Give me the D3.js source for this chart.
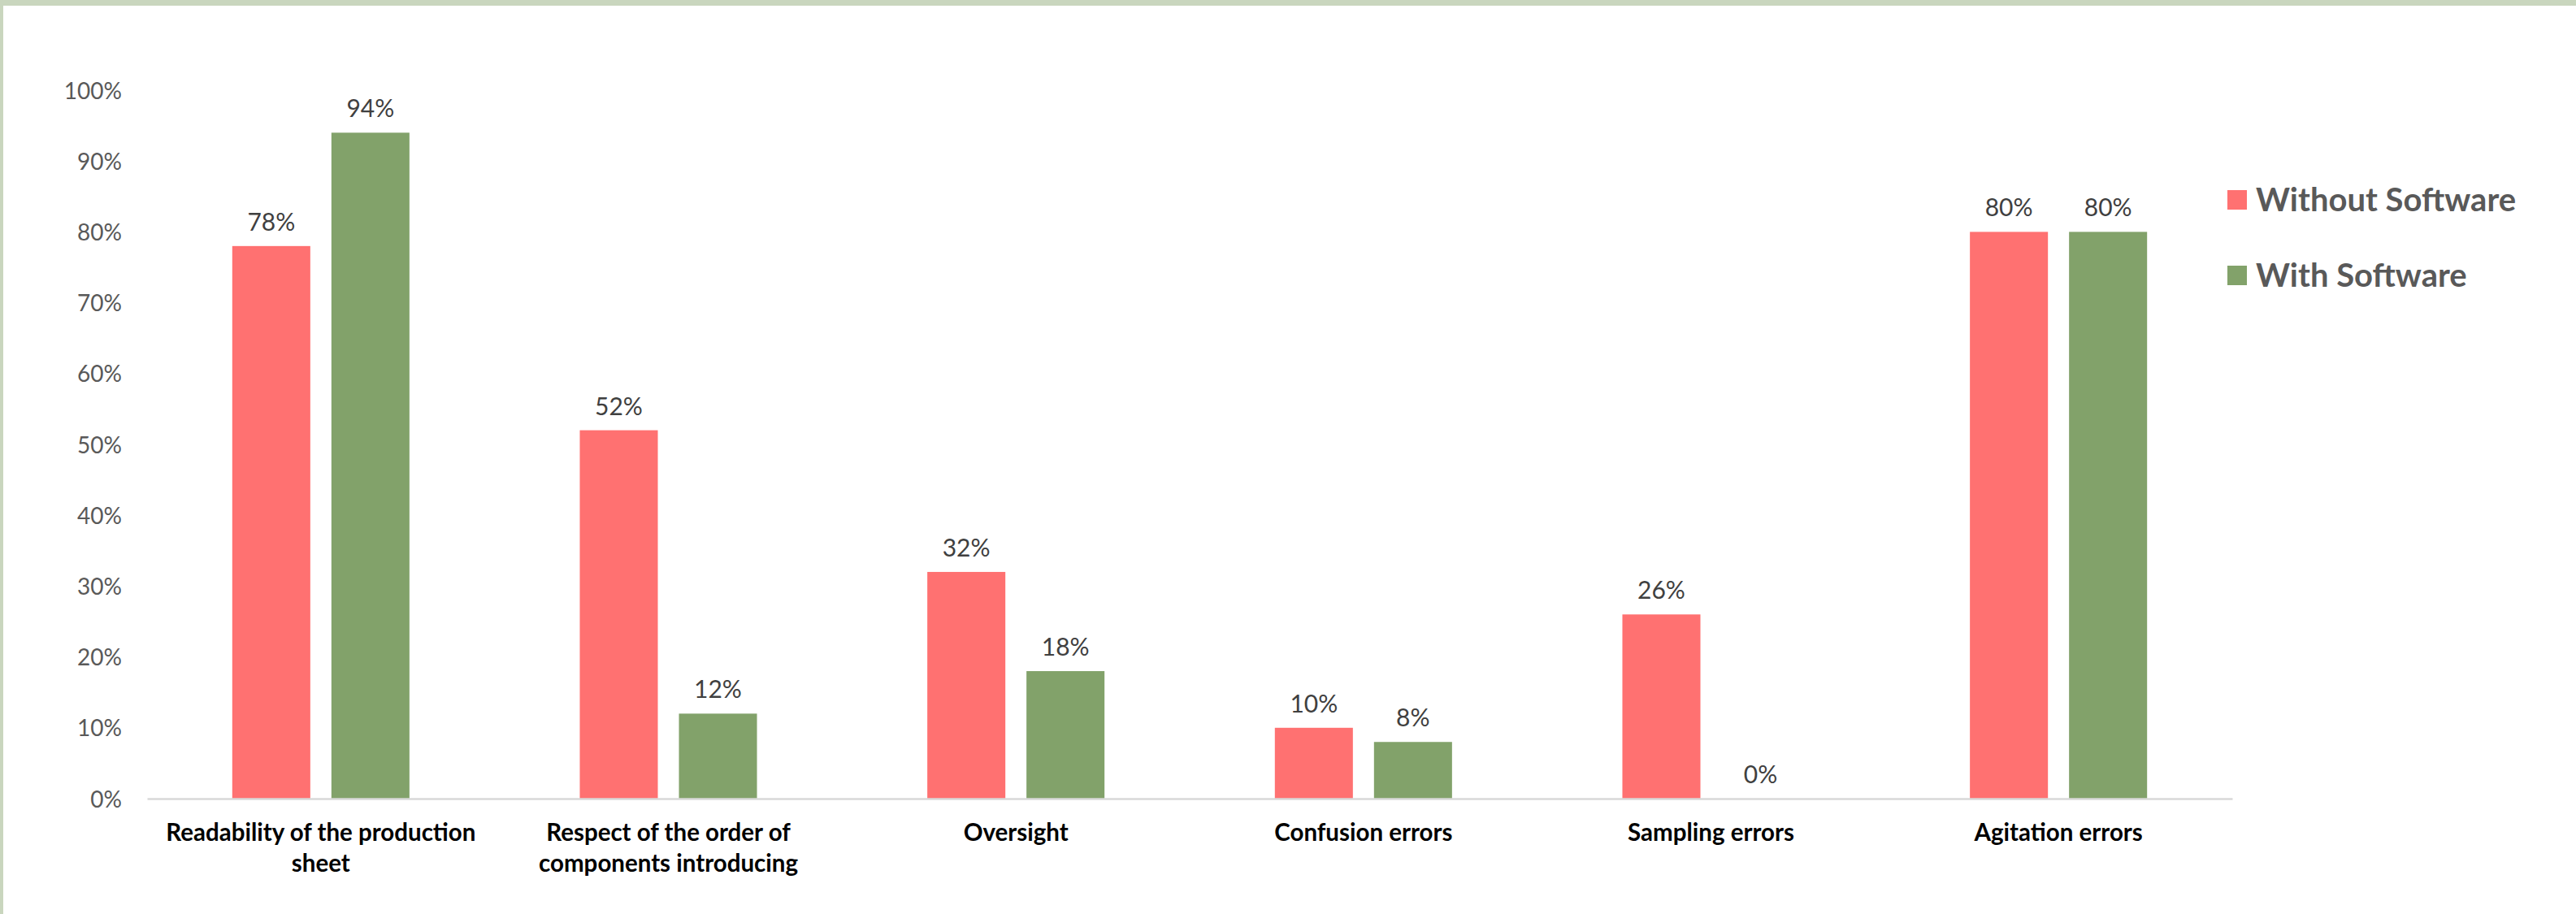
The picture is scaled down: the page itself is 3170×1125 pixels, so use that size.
<!DOCTYPE html>
<html>
<head>
<meta charset="utf-8">
<script src="https://cdn.jsdelivr.net/npm/d3@7"></script>
<style>
  html, body { margin: 0; padding: 0; background: #ffffff; }
  svg { display: block; }
</style>
</head>
<body>
<script>
// Share of operators reporting each issue, with and without the software
const categories = [
  "Readability of the production sheet",
  "Respect of the order of components introducing",
  "Oversight",
  "Confusion errors",
  "Sampling errors",
  "Agitation errors"
];
// Category labels as they wrap under the axis
const categoryLines = [
  ["Readability of the production", "sheet"],
  ["Respect of the order of", "components introducing"],
  ["Oversight"],
  ["Confusion errors"],
  ["Sampling errors"],
  ["Agitation errors"]
];
const seriesNames = ["Without Software", "With Software"];
const withoutSoftware = [78, 52, 32, 10, 26, 80];
const withSoftware = [94, 12, 18, 8, 0, 80];
const yTicks = [0, 10, 20, 30, 40, 50, 60, 70, 80, 90, 100];

const seriesColors = ["#FF7171", "#82A26A"];

const W = 3170, H = 1125;
const plot = { left: 181, right: 2747, top: 111, bottom: 983 };
const FONT = "Lato, 'Open Sans', sans-serif";

const svg = d3.select("body").append("svg")
  .attr("width", W).attr("height", H);

// page background and frame strips
svg.append("rect").attr("width", W).attr("height", H).attr("fill", "#ffffff");
svg.append("rect").attr("x", 0).attr("y", 0).attr("width", W).attr("height", 7).attr("fill", "#C9D6BE");
svg.append("rect").attr("x", 0).attr("y", 0).attr("width", 4).attr("height", H).attr("fill", "#C9D6BE");

const x0 = d3.scaleBand()
  .domain(categories)
  .range([plot.left, plot.right])
  .paddingInner(0).paddingOuter(0);

const x1 = d3.scaleBand()
  .domain(seriesNames)
  .range([0, x0.bandwidth()])
  .paddingInner(0.213)
  .paddingOuter(0.859);

const y = d3.scaleLinear().domain([0, 100]).range([plot.bottom, plot.top]);

const series = [withoutSoftware, withSoftware];
const rows = categories.map((c, i) => ({
  category: c,
  values: seriesNames.map((s, k) => ({ series: s, k, value: series[k][i] }))
}));

// y axis: labels only
const yAxis = svg.append("g")
  .attr("transform", `translate(${plot.left},0)`)
  .call(d3.axisLeft(y).tickValues(yTicks).tickSize(0).tickPadding(31).tickFormat(d => d + "%"));
yAxis.select(".domain").remove();
yAxis.selectAll("text")
  .attr("fill", "#595959")
  .style("font-family", FONT)
  .style("font-size", "28px")
  .attr("dy", "0.36em");

// bars
const groups = svg.append("g").selectAll("g")
  .data(rows).join("g")
  .attr("transform", d => `translate(${x0(d.category)},0)`);

groups.selectAll("rect")
  .data(d => d.values).join("rect")
  .attr("x", d => x1(d.series))
  .attr("width", x1.bandwidth())
  .attr("y", d => y(d.value))
  .attr("height", d => y(0) - y(d.value))
  .attr("fill", d => seriesColors[d.k]);

// value labels
groups.selectAll("text.value")
  .data(d => d.values).join("text")
  .attr("class", "value")
  .attr("x", d => x1(d.series) + x1.bandwidth() / 2)
  .attr("y", d => y(d.value) - 19)
  .attr("text-anchor", "middle")
  .attr("fill", "#404040")
  .style("font-family", FONT)
  .style("font-size", "30px")
  .text(d => d.value + "%");

// x axis
const xAxis = svg.append("g")
  .attr("transform", `translate(0,${plot.bottom})`)
  .call(d3.axisBottom(x0).tickSize(0).tickFormat(""));
xAxis.select(".domain").attr("stroke", "#D9D9D9").attr("stroke-width", 2.5);
xAxis.selectAll(".tick text").remove();
xAxis.selectAll(".tick").each(function (d) {
  const i = categories.indexOf(d);
  const t = d3.select(this).append("text")
    .attr("text-anchor", "middle")
    .attr("fill", "#000000")
    .style("font-family", FONT)
    .style("font-weight", "700")
    .style("font-size", "29.5px");
  categoryLines[i].forEach((line, j) => {
    t.append("tspan").attr("x", 0).attr("y", 52 + j * 38).text(line);
  });
});

// legend
const legend = svg.append("g").attr("transform", "translate(2741,234)");
seriesNames.forEach((name, k) => {
  const g = legend.append("g").attr("transform", `translate(0,${k * 93})`);
  g.append("rect").attr("width", 24).attr("height", 24).attr("fill", seriesColors[k]);
  g.append("text")
    .attr("x", 35).attr("y", 26)
    .attr("fill", "#595959")
    .style("font-family", FONT)
    .style("font-weight", "700")
    .style("font-size", "40px")
    .text(name);
});
</script>
</body>
</html>
